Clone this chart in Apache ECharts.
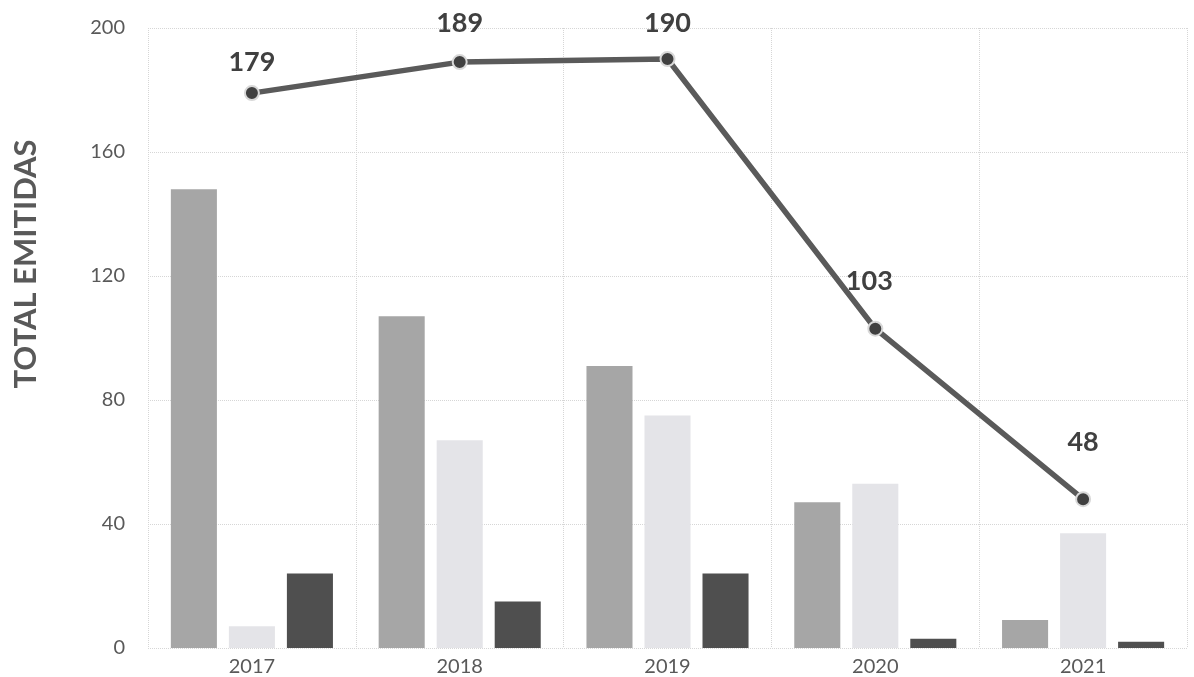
<!DOCTYPE html>
<html>
<head>
<meta charset="utf-8">
<script src="https://cdn.jsdelivr.net/npm/echarts@6/dist/echarts.min.js"></script>
<style>
html,body{margin:0;padding:0;background:#fff;}
#chart{width:1194px;height:677px;}
</style>
</head>
<body>
<div id="chart"></div>
<script>
var categories = ['2017', '2018', '2019', '2020', '2021'];
var seriesA = [148, 107, 91, 47, 9];
var seriesB = [7, 67, 75, 53, 37];
var seriesC = [24, 15, 24, 3, 2];
var totals = [179, 189, 190, 103, 48];
var yTicks = { min: 0, max: 200, interval: 40 };
var yTitle = 'TOTAL EMITIDAS';

var labelDist = [9, 17, 14, 26, 35];
var labelDx = [0, 0, 0, -6, 0];

var chart = echarts.init(document.getElementById('chart'));
var font = 'Lato, "Open Sans", sans-serif';
var option = {
  animation: false,
  backgroundColor: '#ffffff',
  grid: { left: 148, right: 7, top: 28, bottom: 29, containLabel: false },
  graphic: [{
    type: 'text',
    x: 26, y: 264,
    rotation: Math.PI / 2,
    style: {
      text: yTitle,
      align: 'center', verticalAlign: 'middle',
      fill: '#595959',
      font: 'bold 31px Lato, "Open Sans", sans-serif'
    }
  }],
  xAxis: {
    type: 'category',
    data: categories,
    boundaryGap: true,
    axisLine: { show: false },
    axisTick: { show: false },
    axisLabel: { color: '#595959', fontSize: 20, fontFamily: font, margin: 9 },
    splitLine: { show: true, lineStyle: { color: '#d6d6d6', type: 'dotted', width: 1 } }
  },
  yAxis: {
    type: 'value',
    min: yTicks.min, max: yTicks.max, interval: yTicks.interval,
    axisLine: { show: false },
    axisTick: { show: false },
    axisLabel: { color: '#595959', fontSize: 20, fontFamily: font, margin: 23 },
    splitLine: { show: true, lineStyle: { color: '#d6d6d6', type: 'dotted', width: 1 } }
  },
  series: [
    { type: 'bar', data: seriesA, barCategoryGap: '22%', barGap: '26%', itemStyle: { color: '#a6a6a6' } },
    { type: 'bar', data: seriesB, itemStyle: { color: '#e4e4e8' } },
    { type: 'bar', data: seriesC, itemStyle: { color: '#4f4f4f' } },
    {
      type: 'line',
      data: totals.map(function (v, i) {
        return { value: v, label: { distance: labelDist[i], offset: [labelDx[i], 0] } };
      }),
      z: 5,
      symbol: 'circle',
      symbolSize: 14,
      lineStyle: { color: '#5a5a5a', width: 5.5 },
      itemStyle: { color: '#404040', borderColor: '#d8d8d8', borderWidth: 2 },
      label: {
        show: true, position: 'top',
        color: '#404040', fontSize: 27, fontWeight: 'bold', fontFamily: font
      }
    }
  ]
};
chart.setOption(option);
</script>
</body>
</html>
